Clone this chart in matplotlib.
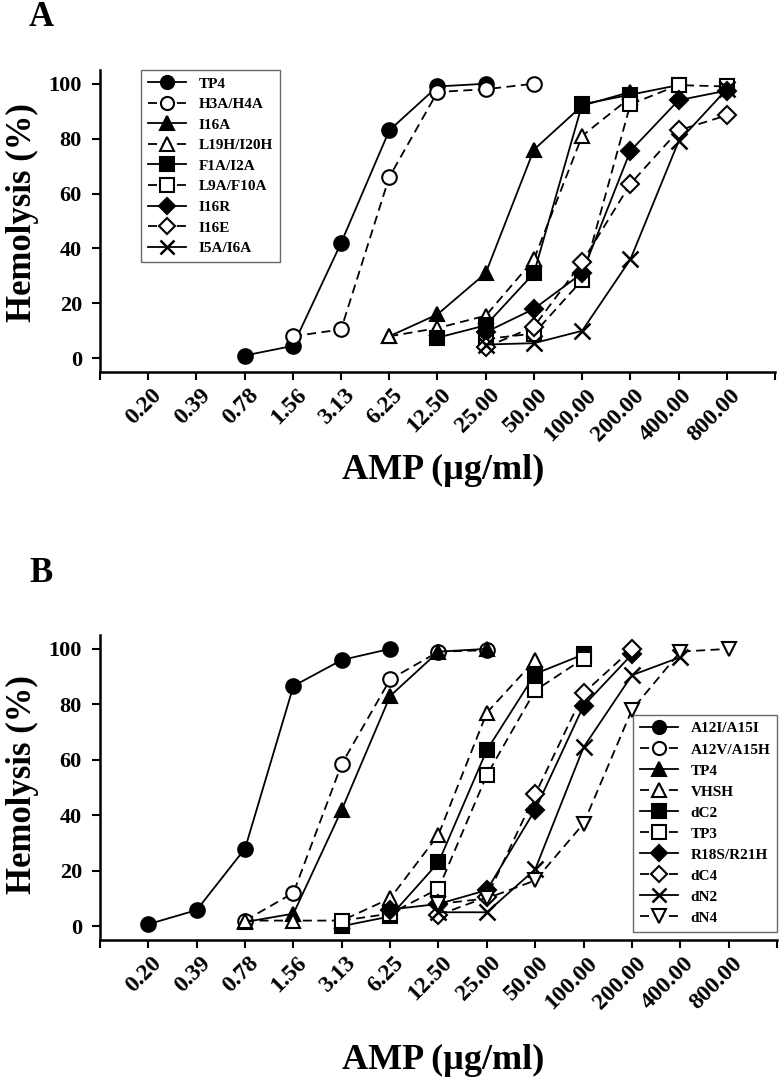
import matplotlib
matplotlib.use('Agg')
import matplotlib.pyplot as plt
import matplotlib.transforms as mtransforms
import numpy as np

plt.rcParams['font.family'] = ['Liberation Serif', 'DejaVu Serif']
plt.rcParams['font.weight'] = 'bold'

# concentrations (ug/ml), plotted as evenly spaced categories
conc = ['0.20', '0.39', '0.78', '1.56', '3.13', '6.25', '12.50',
        '25.00', '50.00', '100.00', '200.00', '400.00', '800.00']

# ---- panel A data ----
a_names = ['TP4', 'H3A/H4A', 'I16A', 'L19H/I20H', 'F1A/I2A',
           'L9A/F10A', 'I16R', 'I16E', 'I5A/I6A']
a_start = [2, 3, 5, 5, 6, 7, 7, 7, 7]   # index of first concentration
a_tp4 = [1, 4.5, 42, 83, 99, 100]
a_h3a = [8, 10.5, 66, 97, 98, 100]
a_i16a = [8, 16, 31, 76, 92, 97]
a_l19h = [8, 11, 15.5, 36, 81, 95]
a_f1a = [7.5, 12, 31, 92.5, 96, 99.5]
a_l9a = [7, 9, 28.5, 92.5, 99.5, 99]
a_i16r = [9.5, 18, 31, 75.5, 94, 97.5]
a_i16e = [4, 11.5, 35, 63.5, 83, 88.5]
a_i5a = [5, 5.5, 10, 36, 79, 98]
a_values = [a_tp4, a_h3a, a_i16a, a_l19h, a_f1a, a_l9a, a_i16r, a_i16e, a_i5a]

# ---- panel B data ----
b_names = ['A12I/A15I', 'A12V/A15H', 'TP4', 'VHSH', 'dC2', 'TP3',
           'R18S/R21H', 'dC4', 'dN2', 'dN4']
b_start = [0, 2, 2, 2, 4, 4, 5, 6, 6, 6]
b_a12i = [0.7, 5.8, 28, 86.6, 96, 100]
b_a12v = [2, 12, 58.5, 89, 99, 99.5]
b_tp4 = [1.5, 4.5, 42, 83, 99, 100]
b_vhsh = [2, 2, 2, 10, 33, 77, 96]
b_dc2 = [0, 3.5, 23, 63.5, 91, 98]
b_tp3 = [2, 4.5, 13.5, 54.5, 85, 96.5]
b_r18s = [6, 8, 13, 42, 79.5, 98]
b_dc4 = [4, 10.5, 47.5, 84, 100]
b_dn2 = [5, 5, 20.5, 64.5, 90.5, 97]
b_dn4 = [8, 10, 16.5, 37, 78, 99, 100]
b_values = [b_a12i, b_a12v, b_tp4, b_vhsh, b_dc2, b_tp3, b_r18s, b_dc4, b_dn2, b_dn4]

# marker style per series (filled -> solid line, open -> dashed)
a_styles = [('o', 'k', '-'), ('o', 'w', '--'), ('^', 'k', '-'), ('^', 'w', '--'),
            ('s', 'k', '-'), ('s', 'w', '--'), ('D', 'k', '-'), ('D', 'w', '--'),
            ('x', 'k', '-')]
b_styles = [('o', 'k', '-'), ('o', 'w', '--'), ('^', 'k', '-'), ('^', 'w', '--'),
            ('s', 'k', '-'), ('s', 'w', '--'), ('D', 'k', '-'), ('D', 'w', '--'),
            ('x', 'k', '-'), ('v', 'w', '--')]

W, H = 780, 1082
fig = plt.figure(figsize=(W / 100, H / 100), dpi=100)


def make_axes(left, right, top, bottom):
    return fig.add_axes([left / W, 1 - bottom / H, (right - left) / W, (bottom - top) / H])


def draw_panel(ax, names, starts, values, styles):
    for name, s, vals, (mk, fc, ls) in zip(names, starts, values, styles):
        x = np.arange(s, s + len(vals))
        ms = 10.5 if mk != 'D' else 9
        if mk == 'x':
            ms = 11.5
        ax.plot(x, vals, linestyle=ls, color='k', lw=1.3,
                marker=mk, markersize=ms, markerfacecolor=fc,
                markeredgecolor='k', markeredgewidth=1.5 if mk != 'x' else 1.8,
                dashes=(5, 3) if ls == '--' else (None, None),
                label=name)
    ax.set_xlim(-1, 13)
    ax.set_ylim(-5, 105)
    ax.set_xticks(np.arange(-1, 14))
    ax.set_xticklabels([''] + conc + [''], rotation=45, ha='right',
                       rotation_mode='anchor', fontsize=17, fontweight='bold')
    ax.set_yticks([0, 20, 40, 60, 80, 100])
    ax.set_yticklabels(['0', '20', '40', '60', '80', '100'], fontsize=16, fontweight='bold')
    ax.spines['top'].set_visible(False)
    ax.spines['right'].set_visible(False)
    ax.spines['left'].set_linewidth(1.8)
    ax.spines['bottom'].set_linewidth(1.8)
    ax.tick_params(axis='both', direction='out', length=6, width=1.5)
    ax.tick_params(axis='y', pad=7)
    ax.tick_params(axis='x', pad=3)
    shift = mtransforms.ScaledTranslation(3 / 100, 0, fig.dpi_scale_trans)
    for lab in ax.get_xticklabels():
        lab.set_transform(lab.get_transform() + shift)


axA = make_axes(100, 775, 70, 372)
draw_panel(axA, a_names, a_start, a_values, a_styles)
legA = axA.legend(loc='upper left', bbox_to_anchor=(0.061, 1.0), borderaxespad=0,
                  fancybox=False, edgecolor='#444444',
                  handlelength=2.5, labelspacing=0.45, markerscale=0.9,
                  borderpad=0.45, prop={'weight': 'bold', 'size': 11})
legA.get_frame().set_linewidth(1.0)

axB = make_axes(100, 777, 635, 940)
draw_panel(axB, b_names, b_start, b_values, b_styles)
legB = axB.legend(loc='upper right', bbox_to_anchor=(1.0, 0.738), borderaxespad=0,
                  fancybox=False, edgecolor='#444444',
                  handlelength=2.5, labelspacing=0.48, markerscale=0.9,
                  borderpad=0.45, prop={'weight': 'bold', 'size': 11})
legB.get_frame().set_linewidth(1.0)

# axis titles and panel letters
for yc, yl, letter_y, letter in [(213, 470, 18, 'A'), (785, 1060, 573, 'B')]:
    fig.text(22 / W, 1 - yc / H, 'Hemolysis (%)', rotation=90, ha='center', va='center',
             fontsize=25, fontweight='bold')
    fig.text(443 / W, 1 - yl / H, 'AMP (\u00b5g/ml)', ha='center', va='center',
             fontsize=26, fontweight='bold')
    fig.text(41 / W, 1 - letter_y / H, letter, ha='center', va='center',
             fontsize=25, fontweight='bold')

fig.savefig('out.png', dpi=100, facecolor='white')
